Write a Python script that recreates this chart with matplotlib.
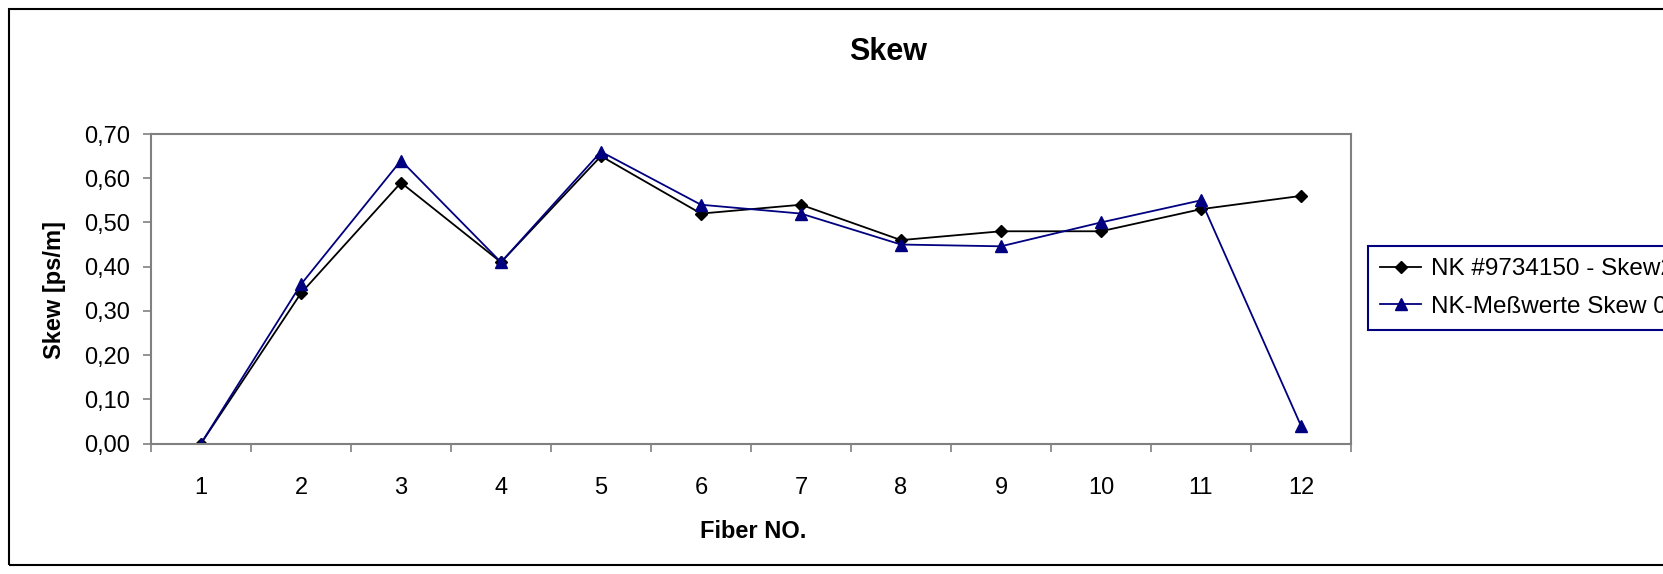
import matplotlib.pyplot as plt
from matplotlib.patches import Rectangle

# data
fibers = list(range(1, 13))
tick_labels = [str(f) for f in fibers]
skew_nk = [0.00, 0.34, 0.59, 0.41, 0.65, 0.52, 0.54, 0.46, 0.48, 0.48, 0.53, 0.56]
skew_mess = [0.00, 0.36, 0.64, 0.41, 0.66, 0.54, 0.52, 0.45, 0.446, 0.50, 0.55, 0.04]
y_ticks = [0.0, 0.1, 0.2, 0.3, 0.4, 0.5, 0.6, 0.7]
label_nk = "NK #9734150 - Skew2 [ps/m]"
label_mess = "NK-Meßwerte Skew 05/2004"

plt.rcParams['font.family'] = ['Liberation Sans', 'DejaVu Sans']

W, H = 1663, 574
fig = plt.figure(figsize=(W / 100, H / 100), dpi=100)

# chart area frame (runs off the right edge like the original)
fig.patches.append(Rectangle((9 / W, 1 - 565 / H), 1760 / W, 556 / H,
                             transform=fig.transFigure, fill=False,
                             edgecolor='black', linewidth=1.5))

ax = fig.add_axes([151 / W, 1 - 443.5 / H, 1200 / W, 309.5 / H])

ax.plot(fibers, skew_nk, color='black', lw=1.3, marker='D', markersize=6,
        label=label_nk)
ax.plot(fibers, skew_mess, color='#000080', lw=1.3, marker='^', markersize=8,
        label=label_mess)

ax.set_xlim(0.5, 12.5)
ax.set_ylim(0, 0.7)

# category axis: ticks between categories, labels at the centres
ax.set_xticks([f + 0.5 for f in range(0, 13)])
ax.set_xticklabels([])
ax.set_xticks(fibers, minor=True)
ax.set_xticklabels(tick_labels, minor=True)
ax.tick_params(axis='x', which='major', direction='out', length=6,
               color='#808080', width=1.2)
ax.tick_params(axis='x', which='minor', length=0, pad=24, labelsize=17)

ax.set_yticks(y_ticks)
ax.set_yticklabels([f"{v:.2f}".replace('.', ',') for v in y_ticks])
ax.tick_params(axis='y', direction='out', length=6, color='#808080',
               width=1.2, pad=9, labelsize=17)

for s in ax.spines.values():
    s.set_color('#808080')
    s.set_linewidth(1.5)

fig.text(888 / W, 1 - 52 / H, "Skew", ha='center', va='center',
         fontsize=22, fontweight='bold')
fig.text(753 / W, 1 - 532 / H, "Fiber NO.", ha='center', va='center',
         fontsize=17, fontweight='bold')
fig.text(54 / W, 1 - 290 / H, "Skew [ps/m]", ha='center', va='center',
         rotation=90, fontsize=17, fontweight='bold')

leg = fig.legend(loc='upper left', bbox_to_anchor=(1368 / W, 1 - 246 / H),
                 borderaxespad=0, fontsize=17.5, fancybox=False, framealpha=1,
                 edgecolor='#000080', handlelength=1.7, handletextpad=0.38,
                 borderpad=0.5, labelspacing=0.65)
leg.get_frame().set_linewidth(1.5)

fig.savefig("out.png", dpi=100)
